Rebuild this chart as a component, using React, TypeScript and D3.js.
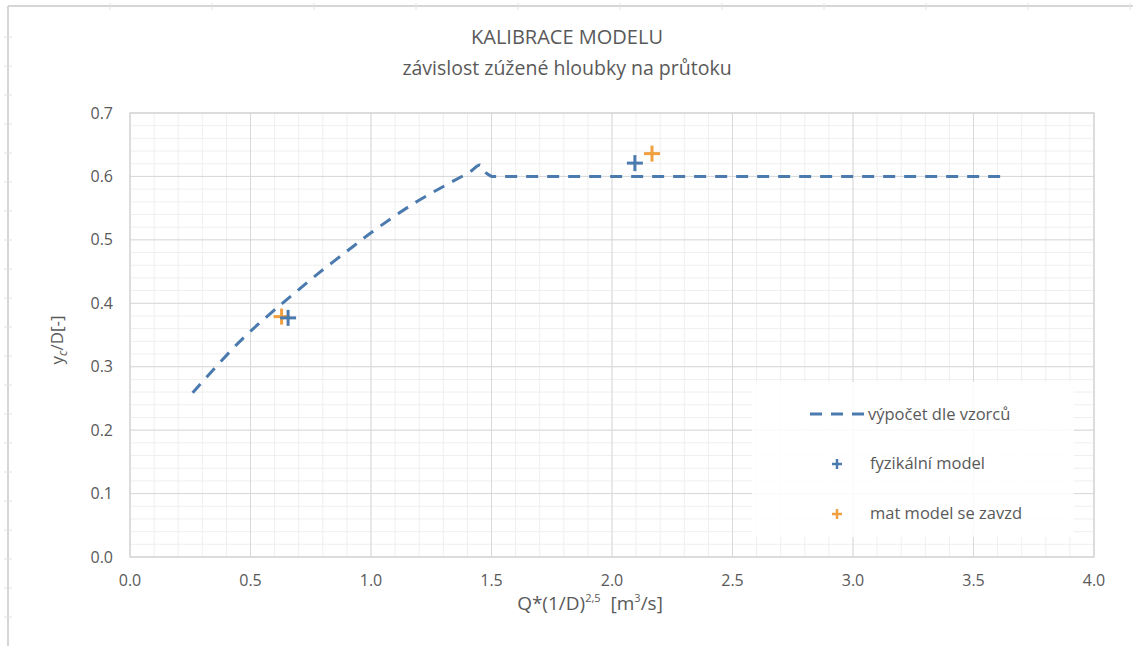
import React from "react";
import * as d3 from "d3";

// ---- data ----
const xTicks = [0, 0.5, 1, 1.5, 2, 2.5, 3, 3.5, 4];
const yTicks = [0, 0.1, 0.2, 0.3, 0.4, 0.5, 0.6, 0.7];

// curved part of the computed line
const calcX = [0.26, 0.456, 0.595, 0.664, 0.788, 0.927, 1.003, 1.176, 1.314, 1.41, 1.452, 1.473, 1.5];
const calcY = [0.259, 0.34, 0.388, 0.41, 0.449, 0.49, 0.512, 0.557, 0.587, 0.607, 0.618, 0.607, 0.6];
// flat part of the computed line
const flatX = [1.5, 3.64];
const flatY = [0.6, 0.6];

const physX = [0.656, 2.095];
const physY = [0.377, 0.621];

const matX = [0.629, 2.166];
const matY = [0.379, 0.636];

const seriesNames = ["výpočet dle vzorců", "fyzikální model", "mat model se zavzd"];

const W = 1133;
const H = 646;
const left = 130;
const right = 1094;
const top = 113;
const bottom = 557;

const BLUE = "#4A7AAE";
const ORANGE = "#F0A040";
const TEXT = "#595959";
const FONT = "'Open Sans', 'Noto Sans', sans-serif";
const NARROW = "'Liberation Sans Narrow', 'Open Sans', sans-serif";

function Plus({ x, y, r, color, w }: { x: number; y: number; r: number; color: string; w: number }) {
  return (
    <g stroke={color} strokeWidth={w}>
      <line x1={x - r} x2={x + r} y1={y} y2={y} />
      <line x1={x} x2={x} y1={y - r} y2={y + r} />
    </g>
  );
}

export default function App() {
  const x = d3.scaleLinear().domain([0, 4]).range([left, right]);
  const y = d3.scaleLinear().domain([0, 0.7]).range([bottom, top]);

  const xMinor = d3.range(0, 4.0001, 0.1);
  const yMinor = d3.range(0, 0.7001, 0.02);

  const calcPts = calcX.map((v, i) => [v, calcY[i]] as [number, number]);
  const flatPts = flatX.map((v, i) => [v, flatY[i]] as [number, number]);
  const curveGen = d3
    .line<[number, number]>()
    .x((d) => x(d[0]))
    .y((d) => y(d[1]))
    .curve(d3.curveCatmullRom.alpha(0.5));
  const flatGen = d3
    .line<[number, number]>()
    .x((d) => x(d[0]))
    .y((d) => y(d[1]));
  const pathD = (curveGen(calcPts) || "") + (flatGen(flatPts) || "").replace(/^M/, "L");

  const frameXTicks = d3.range(8 + 102, W, 102);
  const frameYTicks = d3.range(8 + 29, H, 29);

  return (
    <svg width={W} height={H} style={{ position: "absolute", left: 0, top: 0, background: "#fff" }}>
      <rect x={0} y={0} width={W} height={H} fill="#fff" />
      {/* outer frame */}
      <g stroke="#d6d6d6">
        <line x1={8} x2={8} y1={6} y2={H} strokeWidth={2} />
        <line x1={8} x2={W} y1={6} y2={6} strokeWidth={2} />
        {frameXTicks.map((t) => (
          <line key={"fx" + t} x1={t} x2={t} y1={3} y2={10} strokeWidth={1} stroke="#e2e2e2" />
        ))}
        {frameYTicks.map((t) => (
          <line key={"fy" + t} x1={4} x2={12} y1={t} y2={t} strokeWidth={1} stroke="#e2e2e2" />
        ))}
      </g>

      {/* title */}
      <text x={567} y={44} textAnchor="middle" fontFamily={FONT} fontSize={20} fill={TEXT}>
        KALIBRACE MODELU
      </text>
      <text x={567} y={75} textAnchor="middle" fontFamily={FONT} fontSize={19.5} fill={TEXT}>
        závislost zúžené hloubky na průtoku
      </text>

      {/* minor grid */}
      <g stroke="#efefef" strokeWidth={1}>
        {xMinor.map((t) => (
          <line key={"xm" + t} x1={x(t)} x2={x(t)} y1={top} y2={bottom} />
        ))}
        {yMinor.map((t) => (
          <line key={"ym" + t} x1={left} x2={right} y1={y(t)} y2={y(t)} />
        ))}
      </g>
      {/* major grid */}
      <g stroke="#d9d9d9" strokeWidth={1}>
        {xTicks.map((t) => (
          <line key={"xM" + t} x1={x(t)} x2={x(t)} y1={top} y2={bottom} />
        ))}
        {yTicks.map((t) => (
          <line key={"yM" + t} x1={left} x2={right} y1={y(t)} y2={y(t)} />
        ))}
      </g>
      <rect x={left} y={top} width={right - left} height={bottom - top} fill="none" stroke="#d0d0d0" />

      {/* tick labels */}
      {yTicks.map((t) => (
        <text key={"yl" + t} x={113} y={y(t)} dy="0.35em" textAnchor="end" fontFamily={FONT} fontSize={16} fill={TEXT}>
          {d3.format(".1f")(t)}
        </text>
      ))}
      {xTicks.map((t) => (
        <text key={"xl" + t} x={x(t)} y={586} textAnchor="middle" fontFamily={FONT} fontSize={16} fill={TEXT}>
          {d3.format(".1f")(t)}
        </text>
      ))}

      {/* axis titles */}
      <text x={590} y={610} textAnchor="middle" fontFamily={NARROW} fontSize={19} fill={TEXT}>
        Q*(1/D)
        <tspan fontSize={11} dy={-8}>2,5</tspan>
        <tspan dy={8}>{"\u00a0\u00a0[m"}</tspan>
        <tspan fontSize={11} dy={-8}>3</tspan>
        <tspan dy={8}>/s]</tspan>
      </text>
      <text transform={`translate(63,340) rotate(-90)`} textAnchor="middle" fontFamily={FONT} fontSize={17} fill={TEXT}>
        y<tspan fontSize={12} dy={4} fontStyle="italic">c</tspan>
        <tspan dy={-4}>/D[-]</tspan>
      </text>

      {/* legend background */}
      <rect x={752} y={382} width={322} height={155} fill="#fff" opacity={0.85} />

      {/* calculated line */}
      <path d={pathD} fill="none" stroke={BLUE} strokeWidth={3} strokeDasharray="12,9" />

      {/* markers */}
      {matX.map((v, i) => (
        <Plus key={"m" + i} x={x(v)} y={y(matY[i])} r={8} color={ORANGE} w={3} />
      ))}
      {physX.map((v, i) => (
        <Plus key={"p" + i} x={x(v)} y={y(physY[i])} r={8} color={BLUE} w={3} />
      ))}

      {/* legend */}
      <line x1={810} x2={865} y1={414} y2={414} stroke={BLUE} strokeWidth={3} strokeDasharray="12,9" />
      <text x={868} y={414} dy="0.35em" fontFamily={FONT} fontSize={16.5} fill={TEXT}>
        {seriesNames[0]}
      </text>
      <Plus x={837} y={464} r={5} color={BLUE} w={2.5} />
      <text x={870} y={463} dy="0.35em" fontFamily={FONT} fontSize={16.5} fill={TEXT}>
        {seriesNames[1]}
      </text>
      <Plus x={837} y={514} r={5} color={ORANGE} w={2.5} />
      <text x={870} y={513} dy="0.35em" fontFamily={FONT} fontSize={16.5} fill={TEXT}>
        {seriesNames[2]}
      </text>
    </svg>
  );
}
